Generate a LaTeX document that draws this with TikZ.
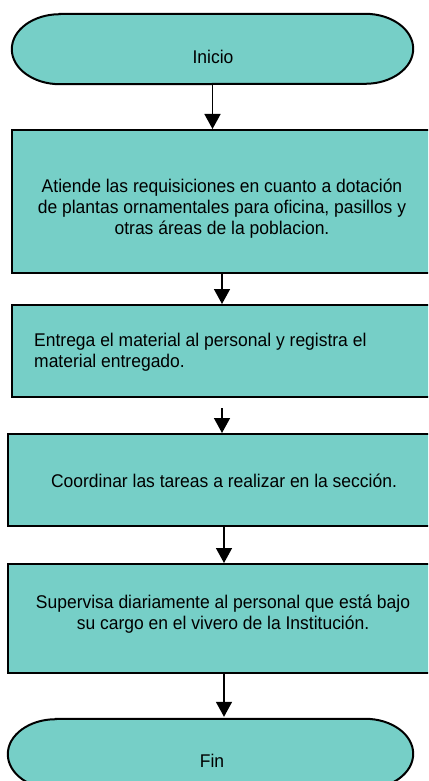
\documentclass[tikz,border=0pt]{standalone}
\usepackage{fontspec}
\setmainfont{Liberation Sans}[FakeStretch=0.95]
\definecolor{FlowTeal}{HTML}{76CFC7}
\usetikzlibrary{arrows.meta, positioning}

\begin{document}
\begin{tikzpicture}[x=1pt, y=1pt,
      proceso/.style={draw, fill=FlowTeal, line width=2pt, inner sep=0pt},
      texto/.style={font=\fontsize{18.4}{21}\selectfont, inner sep=0pt},
      flecha/.style={-{Triangle[width=16pt,length=15pt]}, line width=1.5pt}]
   \useasboundingbox (0,0) rectangle (428,-781);
   \clip (0,0) rectangle (428,-781);
   % Inicio (terminal)
   \node[inner sep=0pt, minimum width=401pt, minimum height=70pt] (inicio) at (212.5,-49) {};
   \draw[proceso] ([xshift=48pt]inicio.north west) -- ([xshift=-48pt]inicio.north east)
      arc[start angle=90, end angle=-90, x radius=48pt, y radius=35pt]
      -- ([xshift=48pt]inicio.south west)
      arc[start angle=270, end angle=90, x radius=48pt, y radius=35pt] -- cycle;
   \node[texto] (tinicio) at (213,-57) {Inicio};
   % Pasos
   \node[proceso, minimum width=420pt, minimum height=143pt] (paso1) at (222,-201.5) {};
   \node[texto, align=center] (tpaso1) at (222,-209)
      {Atiende las requisiciones en cuanto a dotación\\
       de plantas ornamentales para oficina, pasillos y\\
       otras áreas de la poblacion.};
   \node[proceso, minimum width=420pt, minimum height=92pt] (paso2) at (222,-351) {};
   \node[texto, align=left, anchor=west] (tpaso2) at (34,-352)
      {Entrega el material al personal y registra el\\
       material entregado.};
   \node[proceso, minimum width=432pt, minimum height=92pt] (paso3) at (224,-480) {};
   \node[texto] (tpaso3) at (224,-481) {Coordinar las tareas a realizar en la sección.};
   \node[proceso, minimum width=432pt, minimum height=109pt] (paso4) at (224,-618.5) {};
   \node[texto, align=center] (tpaso4) at (223,-614)
      {Supervisa diariamente al personal que está bajo\\
       su cargo en el vivero de la Institución.};
   % Fin (terminal)
   \node[inner sep=0pt, minimum width=405pt, minimum height=70pt] (fin) at (210.5,-754) {};
   \draw[proceso] ([xshift=48pt]fin.north west) -- ([xshift=-48pt]fin.north east)
      arc[start angle=90, end angle=-90, x radius=48pt, y radius=35pt]
      -- ([xshift=48pt]fin.south west)
      arc[start angle=270, end angle=90, x radius=48pt, y radius=35pt] -- cycle;
   \node[texto] (tfin) at (212,-761) {Fin};
   % Flechas
   \draw[flecha] (inicio.south) -- (inicio.south |- paso1.north);
   \draw[flecha] (paso1.south) -- (paso2.north);
   \draw[flecha, shorten <=10pt] (paso2.south) -- (paso2.south |- paso3.north);
   \draw[flecha] (paso3.south) -- (paso3.south |- paso4.north);
   \draw[flecha] (paso4.south) -- ([yshift=2pt]paso4.south |- fin.north);
\end{tikzpicture}
\end{document}
